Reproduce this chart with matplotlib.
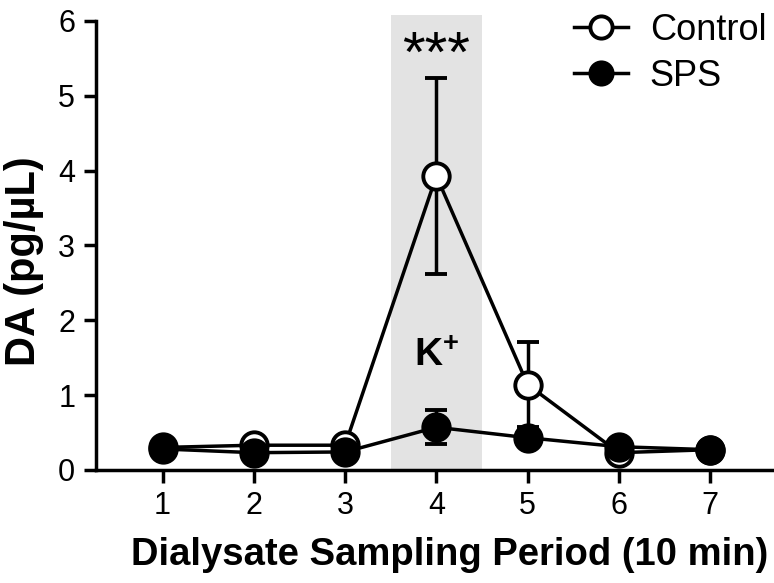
import numpy as np
import matplotlib.pyplot as plt
from matplotlib.patches import Rectangle
from matplotlib.lines import Line2D

plt.rcParams['font.family'] = ['Liberation Sans', 'DejaVu Sans']

# data
period = [1, 2, 3, 4, 5, 6, 7]
control = [0.30, 0.33, 0.33, 3.93, 1.14, 0.23, 0.27]
control_err = [0.04, 0.04, 0.04, 1.31, 0.57, 0.04, 0.04]
sps = [0.28, 0.23, 0.24, 0.57, 0.43, 0.31, 0.27]
sps_err = [0.04, 0.04, 0.04, 0.23, 0.08, 0.09, 0.04]

fig = plt.figure(figsize=(7.74, 5.83), dpi=100)
ax = fig.add_axes([0.124, 0.194, 0.876, 0.770])

# K+ stimulation window
ax.add_patch(Rectangle((3.5, 0), 1.0, 6.08, facecolor='#e3e3e3',
                       edgecolor='none', zorder=0, clip_on=False))

ax.errorbar(period, control, yerr=control_err, color='black', lw=2.5,
            marker='o', ms=19, mfc='white', mec='black', mew=2.8,
            capsize=8, capthick=2.5, elinewidth=2.5, zorder=3)
ax.errorbar(period, sps, yerr=sps_err, color='black', lw=2.5,
            marker='o', ms=19, mfc='black', mec='black', mew=2.8,
            capsize=8, capthick=2.5, elinewidth=2.5, zorder=4)

ax.text(4, 1.52, r'K$^{\mathregular{+}}$', ha='center', va='center',
        fontsize=28, fontweight='bold')
ax.text(4, 5.52, '***', ha='center', va='center', fontsize=42)

ax.set_xlim(0.27, 7.7)
ax.set_ylim(0, 6)
ax.set_xticks(period)
ax.set_yticks(range(0, 7))
for s in ['top', 'right']:
    ax.spines[s].set_visible(False)
for s in ['left', 'bottom']:
    ax.spines[s].set_linewidth(2.5)
ax.tick_params(width=2.5, length=9, labelsize=22, pad=6)

ax.set_xlabel('Dialysate Sampling Period (10 min)', fontsize=27.5,
              fontweight='bold', labelpad=12)
ax.xaxis.label.set_x(0.522)
ax.set_ylabel('DA (pg/\u00b5L)', fontsize=30, fontweight='bold', labelpad=10)
ax.yaxis.label.set_y(0.465)

handles = [Line2D([], [], color='black', lw=2.5, marker='o', ms=16,
                  mfc='white', mec='black', mew=2.8),
           Line2D([], [], color='black', lw=2.5, marker='o', ms=16,
                  mfc='black', mec='black', mew=2.8)]
ax.legend(handles, ['Control', 'SPS'], loc='upper right',
          bbox_to_anchor=(1.01, 1.05), frameon=False, fontsize=26,
          handlelength=1.5, handletextpad=0.6, labelspacing=0.3,
          borderaxespad=0)

fig.savefig('out.png', dpi=100)
